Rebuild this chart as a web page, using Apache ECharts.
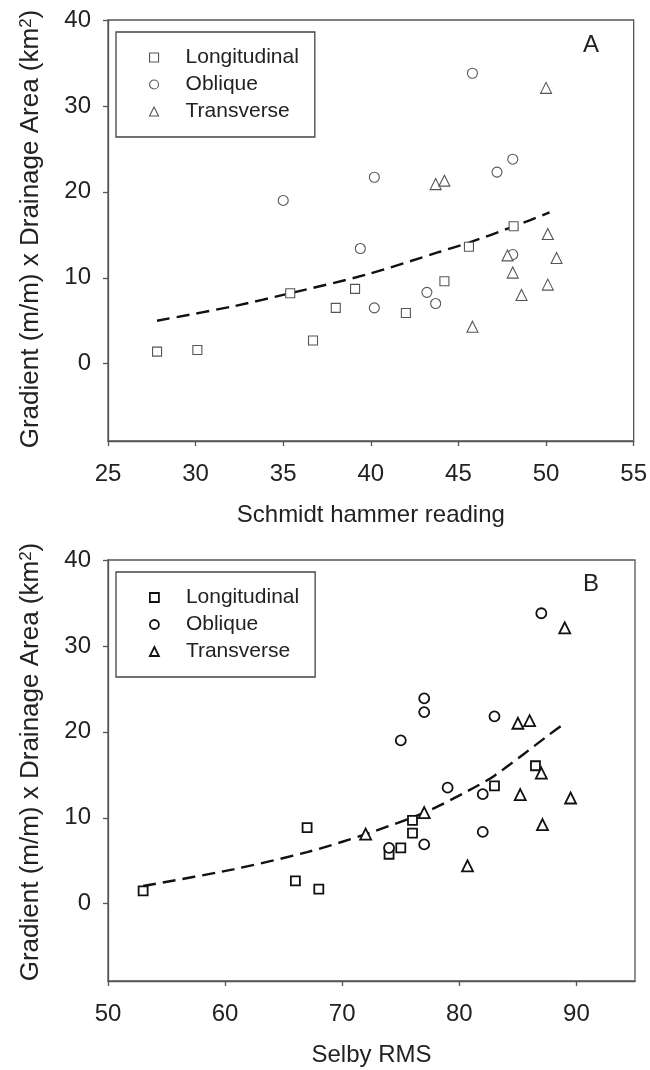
<!DOCTYPE html>
<html>
<head>
<meta charset="utf-8">
<script src="https://cdn.jsdelivr.net/npm/echarts@6/dist/echarts.min.js"></script>
<style>
  html, body { margin: 0; padding: 0; background: #fff; }
  #chart { width: 650px; height: 1070px; }
</style>
</head>
<body>
<div id="chart"></div>
<script>
// panel A : Schmidt hammer reading
var aLongX = [27.8, 30.1, 35.4, 36.7, 38.0, 39.1, 42.0, 44.2, 45.6, 48.15];
var aLongY = [1.4, 1.6, 8.2, 2.7, 6.5, 8.7, 5.9, 9.6, 13.6, 16.0];
var aOblX = [35.0, 39.4, 40.2, 40.2, 43.2, 43.7, 45.8, 47.2, 48.1, 48.1];
var aOblY = [19.0, 13.4, 21.7, 6.5, 8.3, 7.0, 33.8, 22.3, 23.8, 12.7];
var aTrX = [43.7, 44.2, 45.8, 47.8, 48.1, 48.6, 50.0, 50.1, 50.6, 50.1];
var aTrY = [20.9, 21.3, 4.3, 12.6, 10.6, 8.0, 32.1, 15.1, 12.3, 9.2];
// dashed fitted curve
var aFitX = [27.8, 32.2, 35.4, 39.8, 43.9, 45.6, 48.2, 50.2];
var aFitY = [5.0, 6.7, 8.2, 10.4, 13.0, 14.1, 16.0, 17.6];

// panel B : Selby RMS
var bLongX = [53.0, 66.0, 67.0, 68.0, 74.0, 75.0, 76.0, 76.0, 83.0, 86.5];
var bLongY = [1.5, 2.65, 8.85, 1.7, 5.75, 6.5, 8.2, 9.7, 13.7, 16.05];
var bOblX = [74.0, 75.0, 77.0, 77.0, 77.0, 79.0, 82.0, 82.0, 83.0, 87.0];
var bOblY = [6.5, 19.0, 6.9, 22.3, 23.9, 13.5, 8.35, 12.75, 21.8, 33.8];
var bTrX = [72.0, 77.0, 80.7, 85.0, 86.0, 85.2, 87.0, 87.1, 89.0, 89.5];
var bTrY = [8.1, 10.6, 4.4, 21.0, 21.3, 12.7, 15.2, 9.2, 32.1, 12.3];
var bFitX = [53.0, 60.7, 67.0, 72.0, 77.0, 80.7, 83.0, 87.7, 89.0];
var bFitY = [2.06, 4.0, 6.0, 8.09, 10.6, 13.1, 14.9, 19.7, 21.0];

var yTicks = [0, 10, 20, 30, 40];
var aXTicks = [25, 30, 35, 40, 45, 50, 55];
var bXTicks = [50, 60, 70, 80, 90];

var FONT = "'Liberation Sans', Arial, sans-serif";

function pairs(xs, ys) {
  return xs.map(function (x, i) { return [x, ys[i]]; });
}

function xAxisFor(idx, min, max, ticks, name) {
  return {
    gridIndex: idx, type: "value", min: min, max: max,
    name: name, nameLocation: "middle", nameGap: 62,
    nameTextStyle: { fontFamily: FONT, fontSize: 24, color: "#222" },
    axisLine: { onZero: false, lineStyle: { color: "#555", width: 1.3 } },
    axisTick: { show: true, inside: false, length: 5, customValues: ticks, lineStyle: { color: "#555", width: 1.3 } },
    axisLabel: { customValues: ticks, margin: 21, fontFamily: FONT, fontSize: 24, color: "#222" },
    splitLine: { show: false }
  };
}

function yAxisFor(idx) {
  return {
    gridIndex: idx, type: "value", min: -9, max: 40,
    axisLine: { show: true, onZero: false, lineStyle: { color: "#555", width: 1.3 } },
    axisTick: { show: true, inside: false, length: 5, customValues: yTicks, lineStyle: { color: "#555", width: 1.3 } },
    axisLabel: { customValues: yTicks, margin: 17, fontFamily: FONT, fontSize: 24, color: "#222" },
    splitLine: { show: false }
  };
}

function pts(name, idx, symbol, size, data, col, bw) {
  return {
    name: name, type: "scatter", xAxisIndex: idx, yAxisIndex: idx,
    symbol: symbol, symbolSize: size, data: data,
    itemStyle: { color: "#fff", borderColor: col, borderWidth: bw, opacity: 1 },
    emphasis: { disabled: true }, z: 3
  };
}

function fit(idx, data) {
  return {
    type: "line", xAxisIndex: idx, yAxisIndex: idx, data: data,
    smooth: 0.3, symbol: "none", silent: true, z: 2,
    lineStyle: { color: "#111", width: 2.4, type: [13, 7] }
  };
}

function legendFor(top, col, bw) {
  var sty = { color: "#fff", borderColor: col, borderWidth: bw };
  return {
    orient: "vertical", left: 116, top: top,
    padding: [15, 16, 15, 33],
    borderColor: "#444", borderWidth: 1.3, backgroundColor: "#fff",
    itemWidth: 9, itemHeight: 9, itemGap: 6,
    selectedMode: false,
    textStyle: { fontFamily: FONT, fontSize: 21, color: "#222", lineHeight: 20, padding: [0, 0, 0, 22] },
    data: [
      { name: "Longitudinal", icon: "rect", itemStyle: sty },
      { name: "Oblique", icon: "circle", itemStyle: sty },
      { name: "Transverse", icon: "triangle", itemStyle: sty }
    ]
  };
}

var yTitle = "Gradient (m/m) x Drainage Area (km{sup|2})";

function yTitleAt(cy) {
  return {
    type: "text", x: 31, y: cy, rotation: Math.PI / 2,
    style: {
      text: yTitle, fontFamily: FONT, fontSize: 26, fill: "#222",
      align: "center", verticalAlign: "middle",
      rich: { sup: { fontFamily: FONT, fontSize: 17, verticalAlign: "top", fill: "#222" } }
    }
  };
}

var option = {
  animation: false,
  backgroundColor: "#fff",
  grid: [
    { left: 108, top: 20, width: 527, height: 421, show: true, borderColor: "#555", borderWidth: 1.3, backgroundColor: "transparent" },
    { left: 108, top: 560, width: 527, height: 421, show: true, borderColor: "#555", borderWidth: 1.3, backgroundColor: "transparent" }
  ],
  xAxis: [
    xAxisFor(0, 25, 55, aXTicks, "Schmidt hammer reading"),
    xAxisFor(1, 50, 95, bXTicks, "Selby RMS")
  ],
  yAxis: [yAxisFor(0), yAxisFor(1)],
  legend: [legendFor(32, "#555", 1.1), legendFor(572, "#111", 1.8)],
  series: [
    pts("Longitudinal", 0, "rect", 9, pairs(aLongX, aLongY), "#555", 1.1),
    pts("Oblique", 0, "circle", 10, pairs(aOblX, aOblY), "#555", 1.1),
    pts("Transverse", 0, "triangle", 11, pairs(aTrX, aTrY), "#555", 1.1),
    fit(0, pairs(aFitX, aFitY)),
    pts("Longitudinal", 1, "rect", 9, pairs(bLongX, bLongY), "#111", 1.8),
    pts("Oblique", 1, "circle", 10, pairs(bOblX, bOblY), "#111", 1.8),
    pts("Transverse", 1, "triangle", 11, pairs(bTrX, bTrY), "#111", 1.8),
    fit(1, pairs(bFitX, bFitY))
  ],
  graphic: [
    { type: "text", left: 583, top: 33, style: { text: "A", font: "24px " + FONT, fill: "#222" } },
    { type: "text", left: 583, top: 572, style: { text: "B", font: "24px " + FONT, fill: "#222" } },
    yTitleAt(229),
    yTitleAt(762)
  ]
};

var myChart = echarts.init(document.getElementById("chart"), null, { renderer: "canvas" });
myChart.setOption(option);
</script>
</body>
</html>
